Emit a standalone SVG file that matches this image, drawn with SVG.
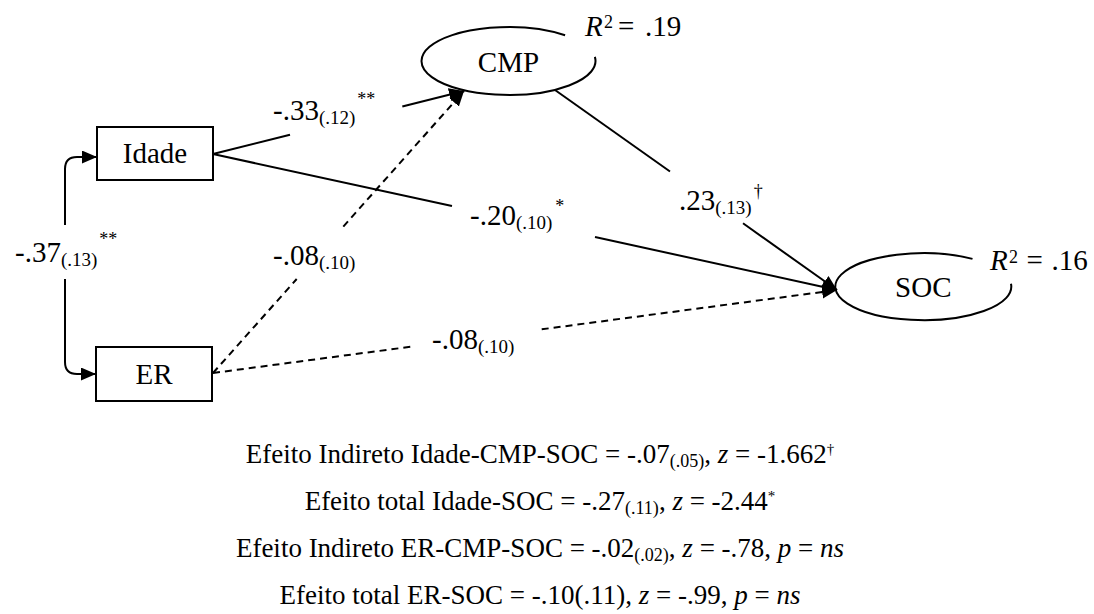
<svg xmlns="http://www.w3.org/2000/svg" width="1094" height="614" viewBox="0 0 1094 614">
<defs>
<style>
text{font-family:"Liberation Serif","Times New Roman",serif;fill:#000}
.lbl{font-family:"Liberation Serif","Times New Roman",serif;font-size:29px}
.sub{font-size:19px}
.sup{font-size:18px}
.box{fill:#fff;stroke:#000;stroke-width:2}
.ell{fill:none;stroke:#000;stroke-width:2}
.ln{fill:none;stroke:#000;stroke-width:2}
.dash{stroke-dasharray:7 5}
.foot{font-family:"Liberation Serif","Times New Roman",serif;font-size:27px}
.fsub{font-size:18px}
.fsup{font-size:15px}
.it{font-style:italic}
</style>
<marker id="ah" markerUnits="userSpaceOnUse" markerWidth="16" markerHeight="14" refX="15" refY="6.5" orient="auto"><path d="M0,0 L15,6.5 L0,13 z" fill="#000"/></marker>
</defs>
<rect width="1094" height="614" fill="#fff"/>

<g id="connectors">
<path class="ln" d="M65,225 V169 Q65,157 77,157 H97" marker-end="url(#ah)"/>
<path class="ln" d="M65,279 V362 Q65,374 77,374 H96" marker-end="url(#ah)"/>
<line class="ln" x1="213" y1="154" x2="290" y2="134.7"/>
<line class="ln" x1="402.3" y1="106.5" x2="464" y2="91" marker-end="url(#ah)"/>
<line class="ln" x1="213" y1="154" x2="452" y2="206"/>
<line class="ln" x1="595" y1="237" x2="837" y2="290" marker-end="url(#ah)"/>
<line class="ln" x1="555" y1="90" x2="670" y2="171.5"/>
<line class="ln" x1="743" y1="223.3" x2="837" y2="290" marker-end="url(#ah)"/>
<line class="ln dash" x1="213" y1="373" x2="296.7" y2="279"/>
<line class="ln dash" x1="343.3" y1="226.6" x2="464" y2="91" marker-end="url(#ah)"/>
<line class="ln dash" x1="213" y1="373" x2="411.7" y2="346.6"/>
<line class="ln dash" x1="541.7" y1="329.3" x2="837" y2="290" marker-end="url(#ah)"/>
<text class="lbl" x="15" y="262">-.37<tspan class="sub" dy="4">(.13)</tspan><tspan class="sup" dx="2" dy="-21">**</tspan></text>
<text class="lbl" x="273" y="120">-.33<tspan class="sub" dy="4">(.12)</tspan><tspan class="sup" dx="2" dy="-19">**</tspan></text>
<text class="lbl" x="273" y="265">-.08<tspan class="sub" dy="4">(.10)</tspan></text>
<text class="lbl" x="470" y="225">-.20<tspan class="sub" dy="4">(.10)</tspan><tspan class="sup" dx="3" dy="-17">*</tspan></text>
<text class="lbl" x="679" y="210">.23<tspan class="sub" dy="4">(.13)</tspan><tspan class="sup" dx="2" dy="-17">†</tspan></text>
<text class="lbl" x="432" y="349">-.08<tspan class="sub" dy="4">(.10)</tspan></text>
</g>

<g id="idade"><rect class="box" x="97" y="127" width="116" height="53"/><text class="lbl" x="155" y="163" text-anchor="middle">Idade</text></g>
<g id="er"><rect class="box" x="96" y="347" width="116" height="54"/><text class="lbl" x="154" y="384" text-anchor="middle">ER</text></g>
<g id="cmp"><path class="ell" d="M594.85,56.86 A87,34 0 1 1 565.1,35.2"/><text class="lbl" x="508.5" y="72" text-anchor="middle">CMP</text>
<text class="lbl" y="36"><tspan class="it" x="585">R</tspan><tspan class="sup" x="604" y="28">2</tspan><tspan x="618" y="36">=</tspan><tspan x="645">.19</tspan></text></g>
<g id="soc"><path class="ell" d="M1010.97,283.8 A88,33.5 0 1 1 972.5,258.9"/><text class="lbl" x="923.3" y="297" text-anchor="middle">SOC</text>
<text class="lbl" y="270"><tspan class="it" x="990">R</tspan><tspan class="sup" x="1009" y="263">2</tspan><tspan x="1026.5" y="270">=</tspan><tspan x="1051.5">.16</tspan></text></g>

<g id="notes">
<text class="foot" x="540" y="463" text-anchor="middle">Efeito Indireto Idade-CMP-SOC = -.07<tspan class="fsub" dy="4">(.05)</tspan><tspan dy="-4">, </tspan><tspan class="it">z</tspan> = -1.662<tspan class="fsup" dy="-9">†</tspan></text>
<text class="foot" x="540" y="510" text-anchor="middle">Efeito total Idade-SOC = -.27<tspan class="fsub" dy="4">(.11)</tspan><tspan dy="-4">, </tspan><tspan class="it">z</tspan> = -2.44<tspan class="fsup" dy="-9">*</tspan></text>
<text class="foot" x="540" y="557" text-anchor="middle">Efeito Indireto ER-CMP-SOC = -.02<tspan class="fsub" dy="4">(.02)</tspan><tspan dy="-4">, </tspan><tspan class="it">z</tspan> = -.78, <tspan class="it">p</tspan> = <tspan class="it">ns</tspan></text>
<text class="foot" x="540" y="604" text-anchor="middle">Efeito total ER-SOC = -.10(.11), <tspan class="it">z</tspan> = -.99, <tspan class="it">p</tspan> = <tspan class="it">ns</tspan></text>
</g>
</svg>
